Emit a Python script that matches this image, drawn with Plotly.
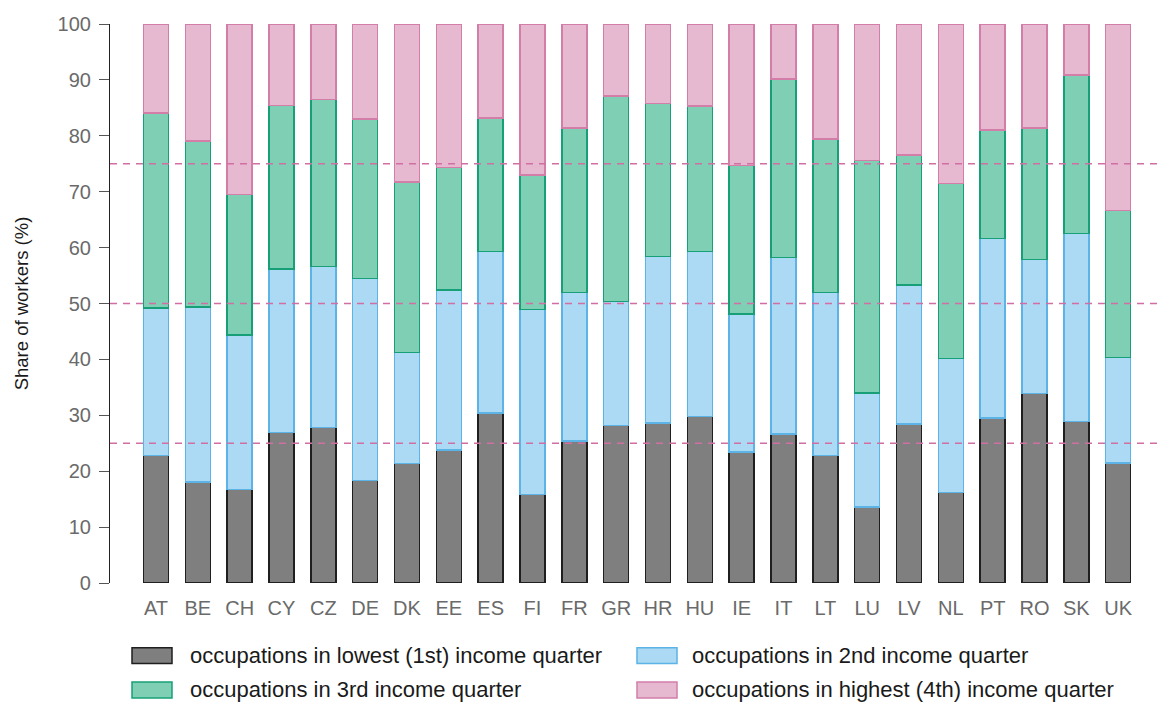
import plotly.graph_objects as go

countries = ["AT", "BE", "CH", "CY", "CZ", "DE", "DK", "EE", "ES", "FI", "FR", "GR",
             "HR", "HU", "IE", "IT", "LT", "LU", "LV", "NL", "PT", "RO", "SK", "UK"]

q1_lowest = [22.8, 18.1, 16.7, 26.9, 27.8, 18.3, 21.4, 23.8, 30.4, 15.8, 25.4, 28.2,
             28.6, 29.8, 23.4, 26.7, 22.8, 13.6, 28.4, 16.2, 29.5, 33.9, 28.9, 21.5]
q2_second = [26.4, 31.3, 27.7, 29.3, 28.8, 36.2, 19.8, 28.6, 28.9, 33.1, 26.6, 22.2,
             29.8, 29.5, 24.7, 31.5, 29.2, 20.4, 24.9, 24.0, 32.1, 24.0, 33.6, 18.8]
q3_third = [34.9, 29.7, 25.1, 29.2, 29.9, 28.5, 30.5, 21.9, 23.9, 24.1, 29.4, 36.7,
            27.4, 26.0, 26.6, 32.0, 27.4, 41.6, 23.3, 31.3, 19.4, 23.5, 28.4, 26.3]
q4_highest = [15.9, 20.9, 30.5, 14.6, 13.5, 17.0, 28.3, 25.7, 16.8, 27.0, 18.6, 12.9,
              14.2, 14.7, 25.3, 9.8, 20.6, 24.4, 23.4, 28.5, 19.0, 18.6, 9.1, 33.4]

series_names = ["occupations in lowest (1st) income quarter",
                "occupations in 2nd income quarter",
                "occupations in 3rd income quarter",
                "occupations in highest (4th) income quarter"]
fills = ["#7f7f7f", "#acd9f3", "#7fcfb5", "#e6b9d1"]
edges = ["#1f1f1f", "#5cb3e6", "#17a077", "#d27ea9"]
ref_lines = [25, 50, 75]

# page body margin offset (8 px) -> figure sized to fit the 1165x703 window
OFF = 8
W, H = 1165 - OFF, 703 - OFF
# target screen positions of the plot area
SX0, SX1, SY0, SY1 = 110, 1160, 21, 583
ML, MR, MT, MB = SX0 - OFF, W - (SX1 - OFF), SY0 - OFF, H - (SY1 - OFF)
PW, PH = SX1 - SX0, SY1 - SY0


def px_x(sx):
    return (sx - SX0) / PW


def px_y(sy):
    return (SY1 - sy) / PH


fig = go.Figure()
for vals, name, fc, ec in zip([q1_lowest, q2_second, q3_third, q4_highest],
                              series_names, fills, edges):
    fig.add_trace(go.Bar(x=countries, y=vals, name=name, width=0.6,
                         marker=dict(color=fc, line=dict(color=ec, width=1.5)),
                         showlegend=False))

shapes = []
for v in ref_lines:
    shapes.append(dict(type="line", xref="paper", x0=0, x1=1, yref="y", y0=v, y1=v,
                       line=dict(color="#d16ea2", width=1.3, dash="7px,6px"), layer="above"))

# custom legend (two columns, two rows), screen pixel positions
legend_pos = [(132, 656, 190), (637, 656, 692), (132, 690.5, 190), (637, 690.5, 692)]
annotations = []
for (lx, ly, tx), name, fc, ec in zip(legend_pos, series_names, fills, edges):
    shapes.append(dict(type="rect", xref="paper", yref="paper",
                       x0=px_x(lx), x1=px_x(lx + 40), y0=px_y(ly - 8), y1=px_y(ly + 8),
                       fillcolor=fc, line=dict(color=ec, width=1.5)))
    annotations.append(dict(xref="paper", yref="paper", x=px_x(tx), y=px_y(ly),
                            xanchor="left", yanchor="middle", showarrow=False,
                            xshift=-2, text=name, font=dict(size=22, color="#1a1a1a")))

fig.update_layout(
    width=W, height=H,
    margin=dict(l=ML, r=MR, t=MT, b=MB, pad=0),
    barmode="stack",
    plot_bgcolor="white", paper_bgcolor="white",
    font=dict(family="Liberation Sans, Arial, sans-serif", size=20, color="#666666"),
    shapes=shapes,
    annotations=annotations,
    xaxis=dict(type="category", range=[-1.1, 24.0], showgrid=False, showline=False,
               zeroline=False, ticks="", ticklabelstandoff=11,
               tickfont=dict(size=20, color="#6a6a6a")),
    yaxis=dict(range=[0, 100], dtick=10, showgrid=False, zeroline=False,
               showline=True, linecolor="#222222", linewidth=1.2,
               ticks="outside", ticklen=10, tickcolor="#555555", tickwidth=1,
               tickfont=dict(size=20, color="#6a6a6a"), ticklabelstandoff=4,
               title=dict(text="Share of workers (%)", standoff=24,
                          font=dict(size=18.5, color="#1a1a1a"))),
)

fig.write_html("out.html")
